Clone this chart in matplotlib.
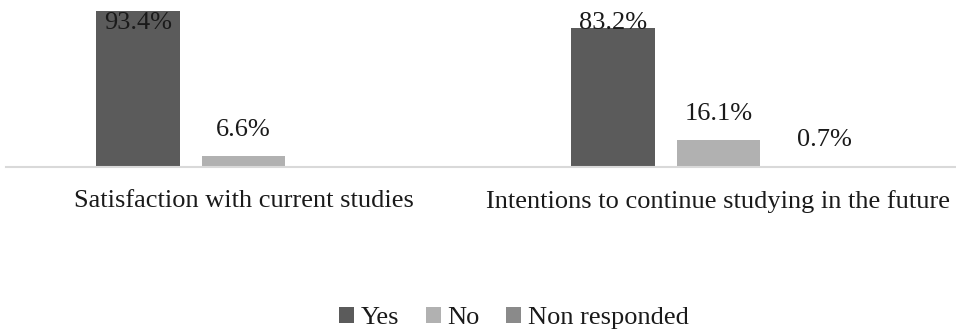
import numpy as np
import matplotlib.pyplot as plt

# Dados
categorias = ["Satisfaction with current studies", "Intentions to continue studying in the future"]
series = ["Yes", "No", "Non responded"]
yes_vals = [93.4, 83.2]
no_vals = [6.6, 16.1]
non_vals = [0.0, 0.7]
rotulos = [["93.4%", "83.2%"], ["6.6%", "16.1%"], [None, "0.7%"]]

cores = ["#5b5b5b", "#b1b1b1", "#8a8a8a"]
fonte = ["Liberation Serif", "DejaVu Serif"]
plt.rcParams["font.family"] = fonte
tam = 19

fig = plt.figure(figsize=(9.56, 3.33), dpi=100)
ax = fig.add_axes([6 / 956, 1 - 167 / 333, 950 / 956, 167 / 333])

x = np.arange(len(categorias))
larg = 0.175
passo = 0.222
valores = [yes_vals, no_vals, non_vals]

for i, (vals, nome, cor) in enumerate(zip(valores, series, cores)):
    pos = x + (i - 1) * passo
    ax.bar(pos, vals, width=larg, color=cor, label=nome, zorder=2)
    for xp, v, txt in zip(pos, vals, rotulos[i]):
        if txt is None:
            continue
        if v > 75:
            # rótulo empurrado para dentro da área do gráfico
            ax.annotate(txt, (xp, 100), xytext=(0, -21), textcoords="offset points",
                        ha="center", va="baseline", fontsize=tam, color="#1a1a1a", zorder=3)
        else:
            ax.annotate(txt, (xp, v), xytext=(0, 14.4), textcoords="offset points",
                        ha="center", va="baseline", fontsize=tam, color="#1a1a1a", zorder=3)

ax.set_xlim(-0.5, 1.5)
ax.set_ylim(0, 100)
ax.set_yticks([])
ax.set_xticks(x)
ax.set_xticklabels(categorias, fontsize=tam, color="#1a1a1a")
ax.tick_params(axis="x", length=0, pad=16.5)
for s in ["top", "right", "left"]:
    ax.spines[s].set_visible(False)
ax.spines["bottom"].set_color("#d9d9d9")
ax.spines["bottom"].set_linewidth(1.5)

leg = fig.legend(loc="center", bbox_to_anchor=(514 / 956, 1 - 318 / 333), ncol=3, frameon=False,
                 fontsize=tam, handlelength=0.57, handleheight=0.57, handletextpad=0.25,
                 columnspacing=1.0, borderaxespad=0, borderpad=0)
for t in leg.get_texts():
    t.set_color("#1a1a1a")

fig.savefig("out.png", dpi=100)
